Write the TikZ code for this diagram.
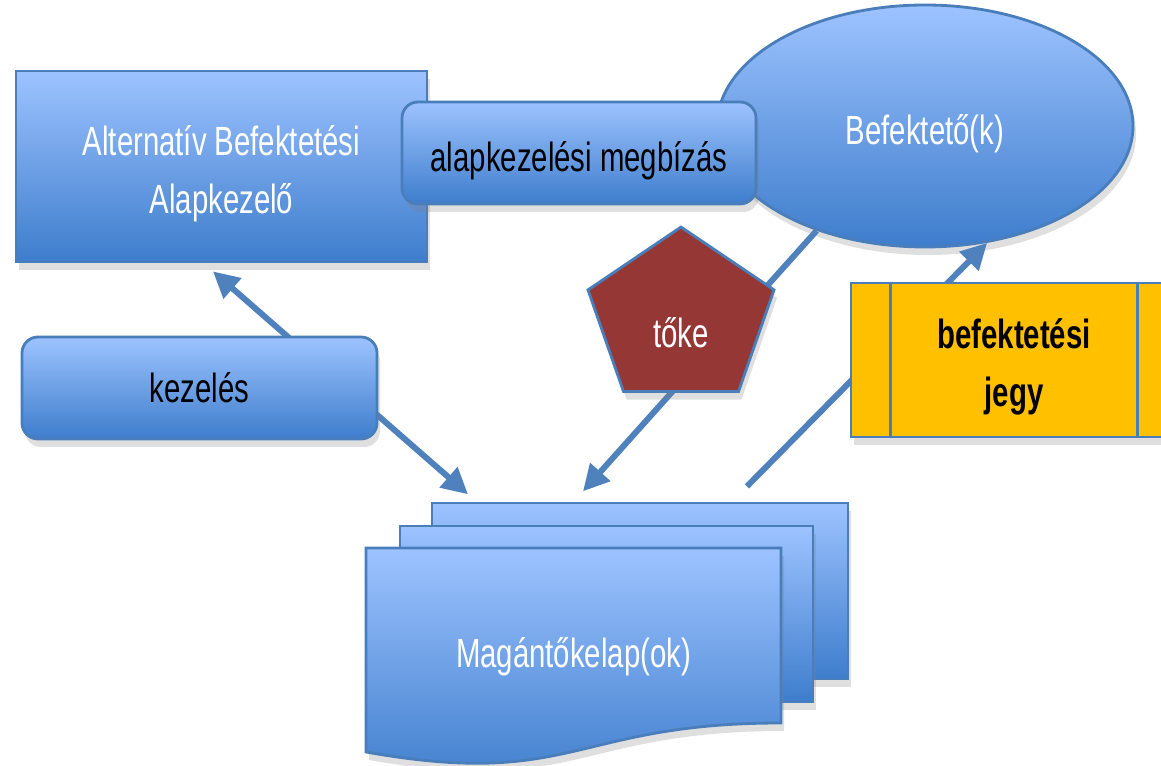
\documentclass[tikz,border=0pt]{standalone}
\usepackage{fontspec}
\newfontfamily\dia[FakeStretch=0.72]{Liberation Sans}
\usetikzlibrary{shapes.geometric,arrows.meta,shadows}
\definecolor{kekfel}{RGB}{157,195,255}
\definecolor{kekle}{RGB}{62,125,204}
\definecolor{kekvonal}{RGB}{74,126,187}
\definecolor{nyilkek}{RGB}{79,129,189}
\definecolor{tokepiros}{RGB}{149,55,53}
\definecolor{jegysarga}{RGB}{255,192,0}
\tikzset{
  arnyek/.style={drop shadow={opacity=0.25,shadow xshift=0.3mm,shadow yshift=-0.8mm}},
  alakzat/.style={draw=kekvonal,line width=0.8pt,arnyek,inner sep=0pt},
  kek/.style={alakzat,top color=kekfel,bottom color=kekle},
  kerek/.style={kek,rounded corners=1.6mm},
  felirat/.style={font=\dia\fontsize{11.6}{16.5}\selectfont,align=center},
  hegy/.tip={Triangle[length=2.6mm,width=2.6mm]},
  nyil/.style={draw=nyilkek,line width=1.7pt}
}
\begin{document}
\begin{tikzpicture}
\useasboundingbox (0,0) rectangle (11.61,7.65);
\clip (0,0) rectangle (11.61,7.65);
% lapok
\draw[kek] (4.32,0.86) rectangle (8.48,2.62);
\draw[kek] (4.00,0.63) rectangle (8.13,2.39);
\draw[kek] (3.66,2.17) -- (7.81,2.17) -- (7.81,0.42)
  .. controls (5.735,0.42) and (5.735,-0.24) .. (3.66,0.13) -- cycle;
\node[felirat,text=white,minimum width=4.15cm,minimum height=2.18cm] (magan) at (5.735,1.08) {Magántőkelap(ok)};
\node[kek,ellipse,minimum width=4.16cm,minimum height=2.42cm,felirat,text=white,
  text height=4.6mm,text depth=0.9mm] (befekteto) at (9.25,6.39) {Befektető(k)};
\node[kek,felirat,text=white,minimum width=4.11cm,minimum height=1.91cm,
  text height=10.3mm,text depth=0.9mm] (alap) at (2.215,5.985) {Alternatív Befektetési\\Alapkezelő};
% nyilak
\draw[nyil,hegy-hegy] ([shift={(-0.085,-0.08)}]alap.south) -- ([shift={(-1.055,0.53)}]magan.north);
\draw[nyil,-hegy] (befekteto.224) -- ([shift={(0.095,0.56)}]magan.north);
\draw[nyil,-hegy] ([shift={(1.735,0.61)}]magan.north) -- (befekteto.298);
% cimkek
\node[kerek,felirat,minimum width=3.54cm,minimum height=1.02cm,text height=4.6mm,text depth=0.9mm] (megbizas) at (5.79,6.12) {alapkezelési megbízás};
\node[kerek,felirat,minimum width=3.55cm,minimum height=1.02cm] (kezeles) at (1.995,3.77) {kezelés};
\node[alakzat,fill=tokepiros,regular polygon,regular polygon sides=5,minimum size=1.956cm,yscale=0.93,
  label={[felirat,text=white,yshift=-1.5mm]center:tőke}] (toke) at (6.81,4.47) {};
\node[alakzat,fill=jegysarga,align=center,font=\dia\bfseries\fontsize{11.6}{16.5}\selectfont,
  minimum width=3.26cm,minimum height=1.54cm,text height=10.2mm,text depth=0.9mm] (jegy) at (10.14,4.05) {befektetési\\jegy};
\draw[kekvonal,line width=0.8pt] ([xshift=4.1mm]jegy.north west) -- ([xshift=4.1mm]jegy.south west);
\draw[kekvonal,line width=0.8pt] ([xshift=-4.1mm]jegy.north east) -- ([xshift=-4.1mm]jegy.south east);
\end{tikzpicture}
\end{document}
